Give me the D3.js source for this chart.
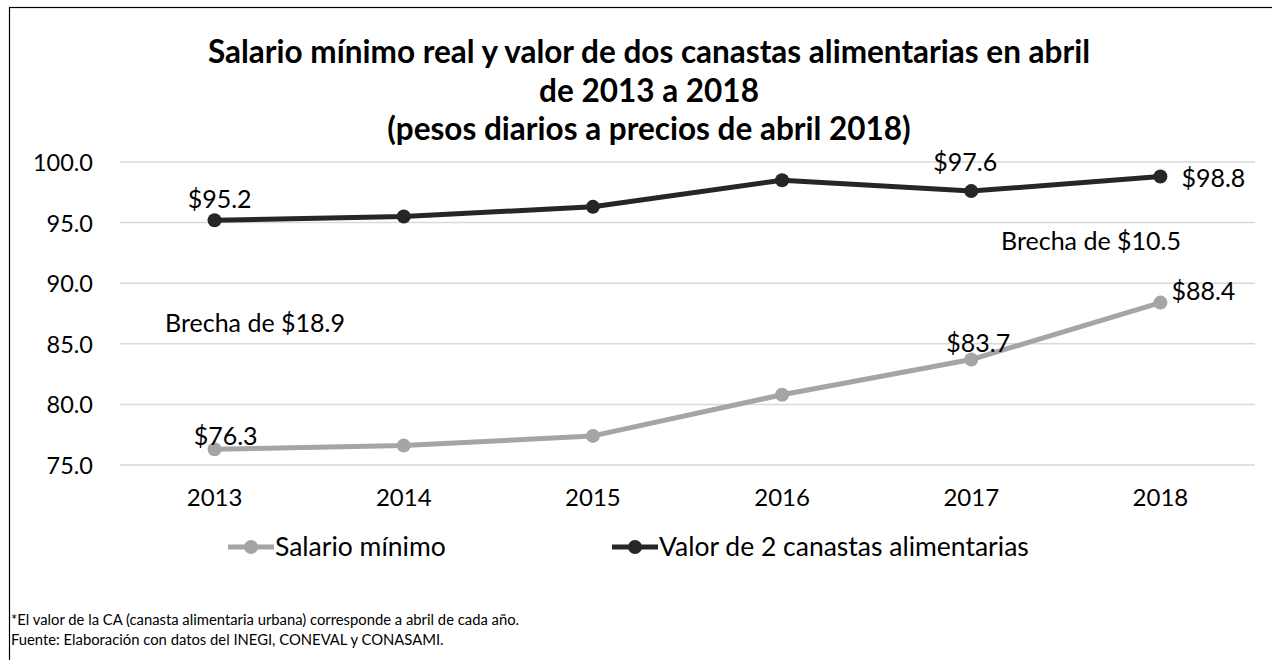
<!DOCTYPE html>
<html>
<head>
<meta charset="utf-8">
<script src="https://cdn.jsdelivr.net/npm/d3@7"></script>
<style>
  body { margin: 0; background: #fff; }
  text { font-family: Lato, "Open Sans", sans-serif; fill: #000; }
</style>
</head>
<body>
<svg id="chart" width="1272" height="660"></svg>
<script>
const years = ['2013', '2014', '2015', '2016', '2017', '2018'];
const salario = [76.3, 76.6, 77.4, 80.8, 83.7, 88.4];
const canastas = [95.2, 95.5, 96.3, 98.5, 97.6, 98.8];
const brechas = [18.9, 10.5];
const yTicks = [75, 80, 85, 90, 95, 100];
const titleLines = [
  'Salario mínimo real y valor de dos canastas alimentarias en abril',
  'de 2013 a 2018',
  '(pesos diarios a precios de abril 2018)'
];
const notes = [
  '*El valor de la CA (canasta alimentaria urbana) corresponde a abril de cada año.',
  'Fuente: Elaboración con datos del INEGI, CONEVAL y CONASAMI.'
];

const svg = d3.select('#chart');
const grayCol = '#a5a5a5', darkCol = '#262626';

// outer frame
svg.append('rect')
  .attr('x', 9.5).attr('y', 7.5).attr('width', 1300).attr('height', 700)
  .attr('fill', 'none').attr('stroke', '#000').attr('stroke-width', 1.2);

let x = d3.scaleBand().domain(years).range([120, 1255]);
let y = d3.scaleLinear().domain([75, 100]).range([465, 162]);
const cx = d => x(d) + x.bandwidth() / 2;

// title
svg.append('g').selectAll('text').data(titleLines).join('text')
  .attr('x', 649).attr('y', (d, i) => 63 + i * 38.5)
  .attr('text-anchor', 'middle')
  .style('font-size', '31.5px').style('font-weight', 'bold')
  .text(d => d);

// grid + y labels
svg.append('g').selectAll('line').data(yTicks).join('line')
  .attr('x1', 120).attr('x2', 1255)
  .attr('y1', d => y(d)).attr('y2', d => y(d))
  .attr('stroke', '#d9d9d9').attr('stroke-width', 1.5);

svg.append('g').selectAll('text').data(yTicks).join('text')
  .attr('x', 93).attr('y', d => y(d) + 9)
  .attr('text-anchor', 'end')
  .style('font-size', '23.5px')
  .text(d => d.toFixed(1));

// x labels
svg.append('g').selectAll('text').data(years).join('text')
  .attr('x', d => cx(d)).attr('y', 506)
  .attr('text-anchor', 'middle')
  .style('font-size', '24px')
  .text(d => d);

function drawSeries(vals, color) {
  let pts = years.map((yr, i) => [cx(yr), y(vals[i])]);
  svg.append('path')
    .attr('d', d3.line()(pts))
    .attr('fill', 'none').attr('stroke', color).attr('stroke-width', 5)
    .attr('stroke-linejoin', 'round');
  svg.append('g').selectAll('circle').data(pts).join('circle')
    .attr('cx', d => d[0]).attr('cy', d => d[1]).attr('r', 7)
    .attr('fill', color);
}
drawSeries(salario, grayCol);
drawSeries(canastas, darkCol);

// data labels
const fmt = v => '$' + v.toFixed(1);
const lbl = (txt, px, py, anchor) => svg.append('text')
  .attr('x', px).attr('y', py).attr('text-anchor', anchor || 'middle')
  .style('font-size', '25px').text(txt);

lbl(fmt(canastas[0]), cx('2013') + 5, y(canastas[0]) - 12);
lbl(fmt(canastas[4]), cx('2017') - 6, y(canastas[4]) - 20);
lbl(fmt(canastas[5]), cx('2018') + 21, y(canastas[5]) + 10, 'start');
lbl(fmt(salario[0]), cx('2013') + 11, y(salario[0]) - 4);
lbl(fmt(salario[4]), cx('2017') + 7, y(salario[4]) - 8);
lbl(fmt(salario[5]), cx('2018') + 11, y(salario[5]) - 3, 'start');
lbl('Brecha de ' + fmt(brechas[0]), 255, 332);
lbl('Brecha de ' + fmt(brechas[1]), 1091, 250);

// legend
const legend = [
  {name: 'Salario mínimo', color: grayCol, x0: 228},
  {name: 'Valor de 2 canastas alimentarias', color: darkCol, x0: 612}
];
const lg = svg.append('g').selectAll('g').data(legend).join('g')
  .attr('transform', d => `translate(${d.x0},547)`);
lg.append('line').attr('x1', 0).attr('x2', 46)
  .attr('stroke', d => d.color).attr('stroke-width', 5);
lg.append('circle').attr('cx', 23).attr('r', 7).attr('fill', d => d.color);
lg.append('text').attr('x', 47).attr('y', 9)
  .style('font-size', '26.5px').text(d => d.name);

// notes
svg.append('g').selectAll('text').data(notes).join('text')
  .attr('x', 11).attr('y', (d, i) => 625 + i * 20)
  .style('font-size', '14.8px')
  .text(d => d);
</script>
</body>
</html>
